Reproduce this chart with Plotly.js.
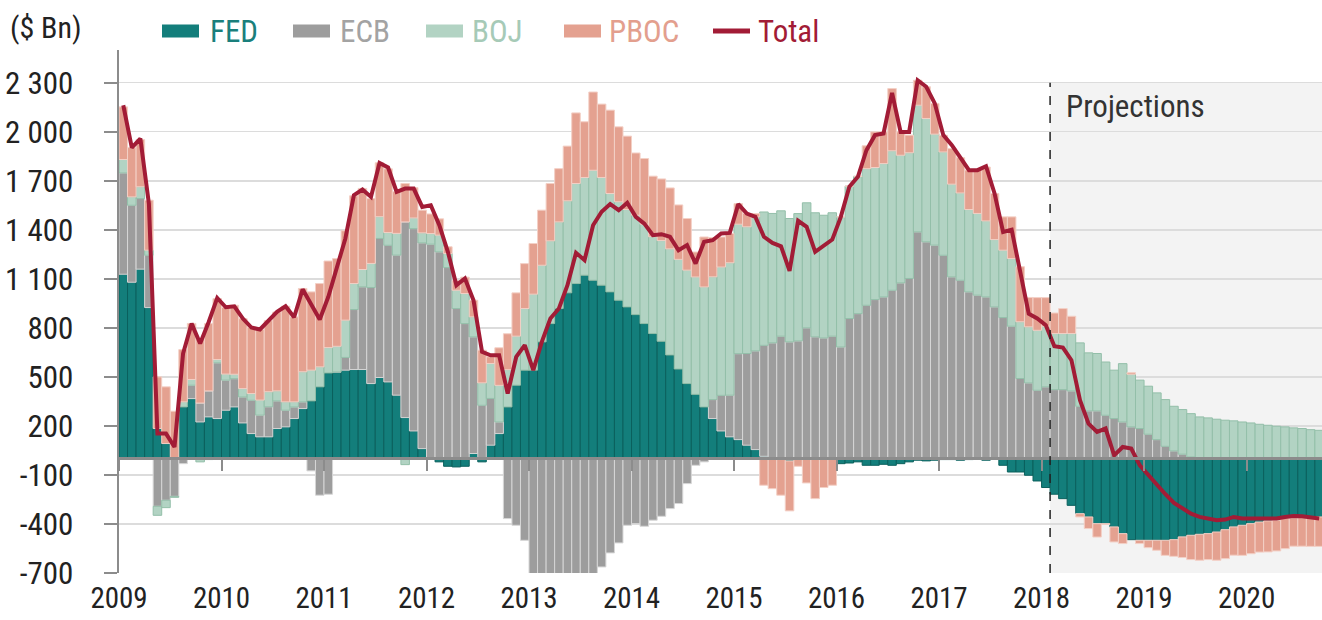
<!DOCTYPE html>
<html>
<head>
<meta charset="utf-8">
<script src="https://cdn.plot.ly/plotly-3.0.1.min.js"></script>
<style>
html,body{margin:0;padding:0;background:#fff;overflow:hidden}
#chart{width:1322px;height:620px}
</style>
</head>
<body>
<div id="chart"></div>
<script>
// ---------- DATA (monthly, Jan 2009 ... Sep 2020, $ Bn) ----------
const START_YEAR = 2009;
const PROJECTION_START = 2018 + 1 / 12;   // projections begin Feb 2018
const YEARS = ['2009','2010','2011','2012','2013','2014','2015','2016','2017','2018','2019','2020'];
const Y_TICKS = [-700, -400, -100, 200, 500, 800, 1100, 1400, 1700, 2000, 2300];
const Y_TICK_TEXT = ['-700','-400','-100','200','500','800','1 100','1 400','1 700','2 000','2 300'];

const FED = [
 1128,1079,1159,924,184,92,0,316,367,224,255,245,
 296,316,218,153,133,133,184,194,245,306,353,439,
 524,530,541,545,545,459,496,469,388,251,169,61,
 0,-20,-47,-51,-47,31,-20,82,153,316,449,541,
 541,714,826,918,1014,1071,1122,1091,1061,1020,969,928,
 881,826,765,718,634,548,459,393,316,245,169,133,
 116,82,55,14,0,0,-14,0,0,0,0,0,
 -31,-27,-20,-41,-41,-35,-41,-31,-20,-10,-14,-10,
 -6,-6,-10,-6,0,-10,0,-41,-82,-82,-102,-137,
 -177,-218,-245,-286,-337,-357,-398,-398,-418,-459,-496,-500,
 -500,-500,-500,-496,-479,-469,-463,-459,-449,-435,-418,-408,
 -398,-388,-381,-377,-367,-363,-361,-357,-357
];
const ECB = [
 620,471,432,320,-292,-255,-231,-31,82,116,159,341,
 184,173,159,204,133,184,169,102,71,41,-75,-224,
 -218,0,78,367,506,588,851,836,857,1197,1238,1259,
 1312,1265,1169,918,826,714,326,286,71,-367,-408,-500,
 -775,-806,-826,-857,-850,-856,-846,-816,-663,-577,-516,-408,
 -398,-414,-377,-353,-306,-275,-153,-41,-20,116,218,255,
 526,561,604,679,708,749,714,720,800,745,738,749,
 683,857,887,938,973,989,1030,1075,1102,1387,1326,1306,
 1244,1112,1091,1020,1000,989,928,863,810,490,463,418,
 439,422,422,414,320,292,292,265,245,224,194,184,
 149,116,75,47,27,10,0,0,0,0,0,0,
 0,0,0,0,0,0,0,0,0
];
const BOJ = [
 82,51,72,31,-55,-45,-6,31,35,-20,-6,20,
 37,27,51,41,92,92,61,51,31,184,188,122,
 155,157,228,159,106,147,133,78,133,-37,65,61,
 65,102,86,112,184,122,137,214,224,228,300,377,
 465,469,506,530,563,612,598,673,659,602,602,596,
 608,608,592,616,649,671,694,718,734,751,785,810,
 792,775,820,816,792,767,755,779,765,759,751,755,
 796,810,840,836,808,816,853,781,769,775,755,679,
 632,567,534,504,500,465,412,412,414,347,343,367,
 371,343,343,351,388,355,351,326,296,357,322,296,
 294,286,286,273,273,265,255,249,241,235,231,224,
 218,210,204,198,194,188,184,177,173
];
const PBOC = [
 322,302,289,306,316,347,290,320,343,390,412,373,
 408,422,428,404,432,435,483,585,520,510,479,510,
 530,537,547,537,496,397,330,390,255,235,186,139,
 120,100,41,60,100,102,200,41,230,220,265,275,
 310,337,351,326,335,432,341,479,449,510,459,449,
 381,402,371,377,373,333,316,153,306,240,184,180,
 126,82,20,-163,-184,-224,-306,-47,-149,-245,-177,-163,
 0,0,0,140,218,194,381,143,108,153,194,188,
 102,218,216,241,265,330,282,204,255,337,180,200,
 175,126,153,106,-20,-71,-82,-5,-92,-61,10,-20,
 -45,-61,-92,-102,-126,-149,-159,-159,-173,-177,-173,-184,
 -184,-184,-190,-188,-184,-173,-175,-180,-180
];
const TOTAL = [
 2162,1903,1958,1560,153,153,71,643,826,704,836,983,
 926,932,857,802,790,843,898,932,865,1036,947,851,
 989,1173,1347,1612,1646,1601,1809,1781,1632,1652,1652,1540,
 1550,1428,1265,1061,1102,969,653,632,632,398,622,694,
 541,714,857,918,1061,1259,1214,1428,1510,1557,1520,1565,
 1479,1438,1367,1373,1357,1275,1306,1193,1326,1336,1377,1381,
 1557,1499,1479,1357,1320,1299,1149,1455,1418,1265,1306,1340,
 1479,1663,1724,1887,1979,1989,2238,1999,1999,2315,2275,2173,
 1979,1918,1842,1765,1765,1789,1622,1387,1401,1153,887,857,
 816,687,679,602,357,214,163,184,20,71,61,-41,
 -102,-163,-218,-271,-306,-337,-357,-367,-377,-373,-357,-367,
 -367,-363,-367,-367,-357,-351,-353,-357,-367
];

// ---------- STYLE ----------
const FONT = "'Liberation Sans Narrow','Arial Narrow','Roboto Condensed','DejaVu Sans Condensed',sans-serif";
const C = {
  FED:  {fill:'#137e7b', edge:'#0b605d', text:'#1a7f7c'},
  ECB:  {fill:'#9d9d9d', edge:'#d6d6d6', text:'#a3a3a3'},
  BOJ:  {fill:'#b2d3c3', edge:'#93bfa9', text:'#a6cab7'},
  PBOC: {fill:'#e4a190', edge:'#f3d0c6', text:'#e39f8e'},
  TOTAL:'#a21c36'
};
const X_END = 2020.736;
const x = FED.map((_, i) => START_YEAR + (i + 0.5) / 12);

function bar(name, y, c) {
  return {type:'bar', name, x, y, width:1/12,
    marker:{color:c.fill, line:{color:c.edge, width:1}},
    hoverinfo:'skip', showlegend:false};
}
const traces = [
  bar('FED', FED, C.FED),
  bar('ECB', ECB, C.ECB),
  bar('BOJ', BOJ, C.BOJ),
  bar('PBOC', PBOC, C.PBOC),
  {type:'scatter', mode:'lines', name:'Total', x, y:TOTAL,
   line:{color:C.TOTAL, width:4}, hoverinfo:'skip', showlegend:false},
  {type:'scatter', mode:'lines', x:[], y:[], xaxis:'x2', showlegend:false, hoverinfo:'skip'}
];

// plot area in pixels (for the hand-placed legend)
const PL = 119, PR = 1322, PT = 50, PB = 573;
const px = v => (v - PL) / (PR - PL);
const py = v => (PB - v) / (PB - PT);

const legendItems = [
  {label:'FED',  c:C.FED.fill,  t:C.FED.text,  x0:162, tx:210, kind:'box'},
  {label:'ECB',  c:C.ECB.fill,  t:C.ECB.text,  x0:293, tx:340, kind:'box'},
  {label:'BOJ',  c:C.BOJ.fill,  t:C.BOJ.text,  x0:426, tx:472, kind:'box'},
  {label:'PBOC', c:C.PBOC.fill, t:C.PBOC.text, x0:564, tx:609, kind:'box'},
  {label:'Total',c:C.TOTAL,     t:C.TOTAL,     x0:713, tx:758, kind:'line'}
];
const shapes = [
  {type:'rect', xref:'x', yref:'y', x0:PROJECTION_START, x1:X_END, y0:-700, y1:2300,
   fillcolor:'#f3f3f3', line:{width:0}, layer:'below'},
  {type:'line', xref:'x', yref:'y', x0:PROJECTION_START, x1:PROJECTION_START, y0:-700, y1:2300,
   line:{color:'#222', width:1.5, dash:'dash'}, layer:'above'}
];
const annotations = [
  {xref:'paper', yref:'paper', x:px(8), y:py(28), xanchor:'left', yanchor:'middle',
   text:'($ Bn)', showarrow:false, font:{family:FONT, size:30, color:'#222'}},
  {xref:'x', yref:'paper', x:PROJECTION_START, xshift:14, y:py(106), xanchor:'left', yanchor:'middle',
   text:'Projections', showarrow:false, font:{family:FONT, size:31, color:'#333'}}
];
legendItems.forEach(it => {
  if (it.kind === 'box') {
    shapes.push({type:'rect', xref:'paper', yref:'paper', x0:px(it.x0), x1:px(it.x0+37),
      y0:py(37.5), y1:py(24.5), fillcolor:it.c, line:{width:0}});
  } else {
    shapes.push({type:'line', xref:'paper', yref:'paper', x0:px(it.x0), x1:px(it.x0+37),
      y0:py(31), y1:py(31), line:{color:it.c, width:5}});
  }
  annotations.push({xref:'paper', yref:'paper', x:px(it.tx - 2), y:py(31), xanchor:'left', yanchor:'middle',
    text:it.label, showarrow:false, font:{family:FONT, size:31, color:it.t}});
});

const layout = {
  width:1322, height:620,
  margin:{l:PL, r:1322-PR, t:PT, b:620-PB, pad:0},
  paper_bgcolor:'#ffffff', plot_bgcolor:'#ffffff',
  barmode:'relative', bargap:0,
  showlegend:false,
  font:{family:FONT, size:31, color:'#222'},
  xaxis:{range:[START_YEAR, X_END], tickvals:YEARS.map(Number), ticktext:YEARS,
    ticks:'', showgrid:false, zeroline:false, showline:false, fixedrange:true,
    tickfont:{family:FONT, size:29, color:'#222'}, ticklabelstandoff:5},
  xaxis2:{overlaying:'x', matches:'x', anchor:'free', position:700/3200, side:'bottom',
    tickvals:YEARS.map(Number), ticks:'outside', ticklen:11, tickwidth:2, tickcolor:'#8c8c8c',
    showticklabels:false, showgrid:false, zeroline:false, showline:false},
  yaxis:{range:[-700, 2500], tickvals:Y_TICKS, ticktext:Y_TICK_TEXT,
    showgrid:true, gridcolor:'#dcdcdc', gridwidth:1.5,
    zeroline:true, zerolinecolor:'#8c8c8c', zerolinewidth:2.5, zerolinelayer:'above traces',
    showline:true, linecolor:'#8c8c8c', linewidth:2.5,
    ticks:'outside', ticklen:13, tickwidth:2, tickcolor:'#8c8c8c',
    tickfont:{family:FONT, size:31, color:'#222'}, ticklabelstandoff:24, fixedrange:true},
  shapes, annotations
};

Plotly.newPlot('chart', traces, layout, {staticPlot:true, displayModeBar:false});
</script>
</body>
</html>
